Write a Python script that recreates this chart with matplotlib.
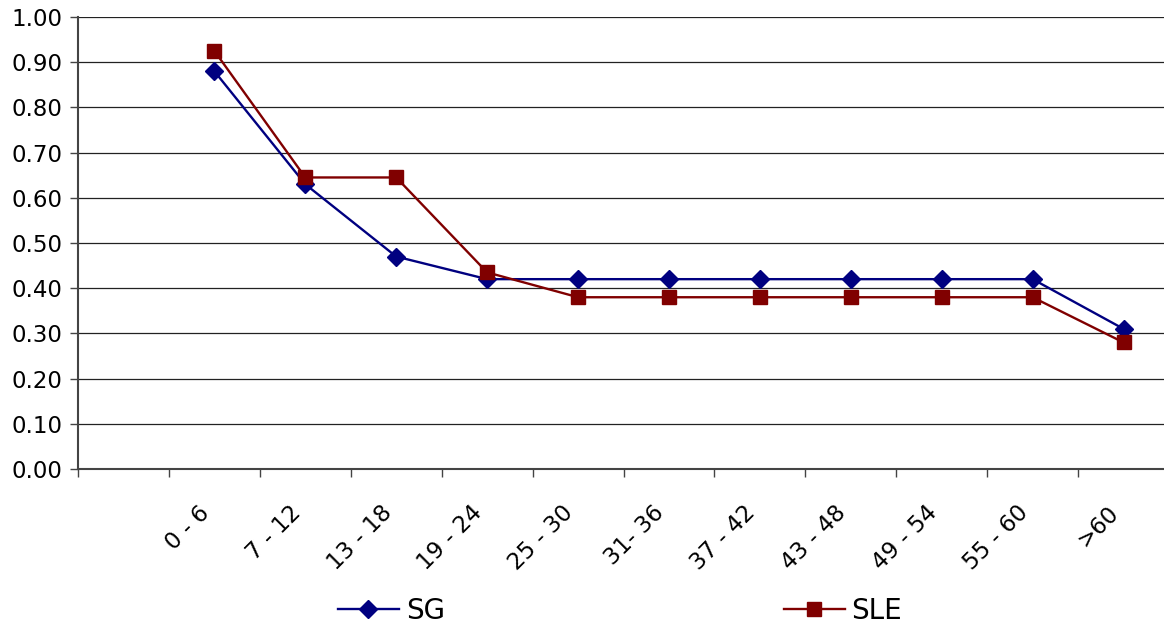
import numpy as np
import matplotlib
matplotlib.use("Agg")
import matplotlib.pyplot as plt
from matplotlib.transforms import ScaledTranslation

# data
categories = ['0 - 6', '7 - 12', '13 - 18', '19 - 24', '25 - 30', '31- 36',
              '37 - 42', '43 - 48', '49 - 54', '55 - 60', '>60']
sg = [0.88, 0.63, 0.47, 0.42, 0.42, 0.42, 0.42, 0.42, 0.42, 0.42, 0.31]
sle = [0.925, 0.645, 0.645, 0.435, 0.38, 0.38, 0.38, 0.38, 0.38, 0.38, 0.28]
yticks = np.arange(0, 1.01, 0.1)

W, H = 1164, 632
fig = plt.figure(figsize=(W / 100, H / 100), dpi=100)
ax = fig.add_axes([78 / W, (H - 469) / H, 1091 / W, 452 / H])

# first category slot is empty in the original
x = np.arange(1, len(categories) + 1)
ax.plot(x, sg, color='#000080', lw=1.7, marker='D', ms=9, label='SG', zorder=3)
ax.plot(x, sle, color='#800000', lw=1.7, marker='s', ms=10, label='SLE', zorder=3)

ax.set_xlim(-0.5, len(categories) + 0.5)
ax.set_ylim(0, 1.0)
ax.set_yticks(yticks, labels=['%.2f' % v for v in yticks])
ax.yaxis.grid(True, color='#222222', lw=0.9)
ax.set_axisbelow(True)

# ticks on category boundaries, labels on centers
ax.set_xticks(np.arange(-0.5, len(categories) + 0.5, 1.0))
ax.set_xticklabels([])
ax.set_xticks(x, labels=categories, minor=True)
ax.tick_params(axis='x', which='minor', length=0, pad=29, labelsize=16.5)
ax.tick_params(axis='x', which='major', length=6, color='#444444', width=1)
ax.tick_params(axis='y', length=6, color='#444444', width=1, labelsize=16.5, pad=5)
for lab in ax.get_xticklabels(minor=True):
    lab.set_rotation(45)
    lab.set_ha('right')
    lab.set_va('center')
    lab.set_rotation_mode('anchor')
    lab.set_transform(lab.get_transform() + ScaledTranslation(-0.08, 0, fig.dpi_scale_trans))

for s in ['top', 'right']:
    ax.spines[s].set_visible(False)
for s in ['left', 'bottom']:
    ax.spines[s].set_color('#444444')
    ax.spines[s].set_linewidth(1.5)

fig.legend(loc='center', bbox_to_anchor=(620 / W, 1 - 611 / H), ncol=2,
           frameon=False, fontsize=20, handlelength=2.2, handletextpad=0.25,
           columnspacing=12.2, markerscale=1.0)

fig.savefig('out.png', dpi=100)
